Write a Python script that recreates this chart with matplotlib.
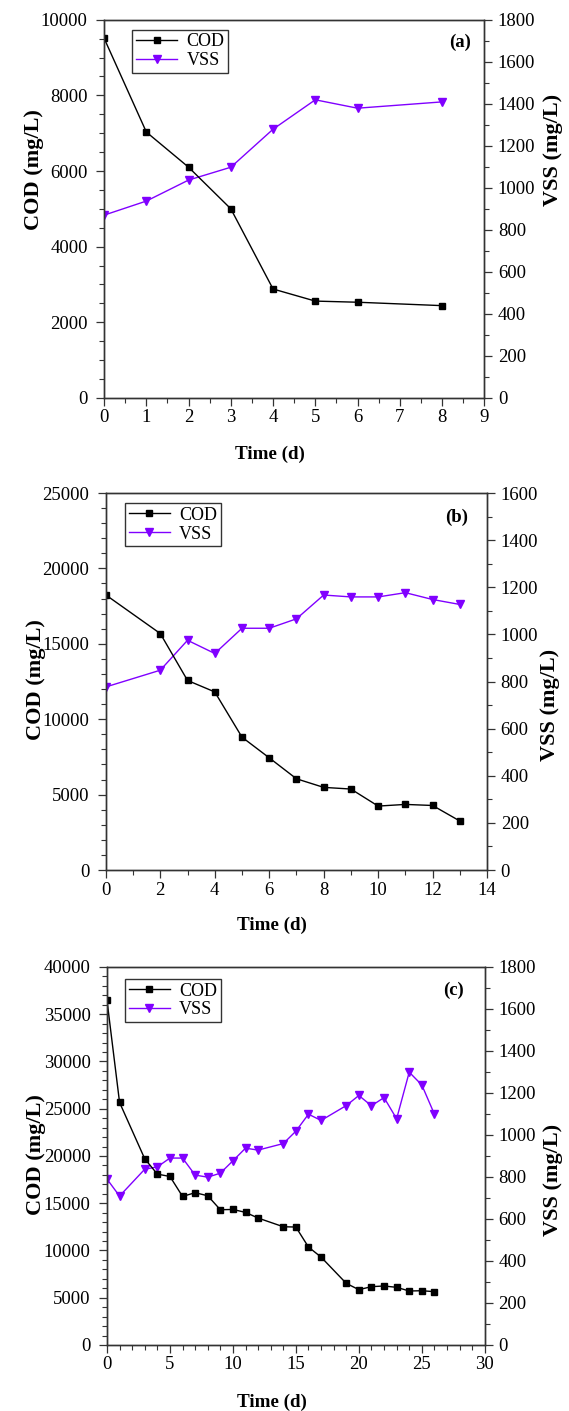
import matplotlib
matplotlib.use("Agg")
import matplotlib.pyplot as plt
from matplotlib.ticker import MultipleLocator

plt.rcParams['font.family'] = ['Liberation Serif', 'DejaVu Serif']

# ---- data ----
days_a = [0, 1, 2, 3, 4, 5, 6, 8]
cod_a = [9510, 7030, 6100, 5000, 2880, 2560, 2530, 2440]
vss_a = [870, 937, 1037, 1098, 1279, 1419, 1379, 1409]

days_b = [0, 2, 3, 4, 5, 6, 7, 8, 9, 10, 11, 12, 13]
cod_b = [18240, 15680, 12570, 11810, 8810, 7440, 6050, 5480, 5370, 4240, 4350, 4280, 3250]
vss_b = [777, 848, 975, 919, 1026, 1026, 1066, 1167, 1159, 1159, 1177, 1148, 1127]

days_c = [0, 1, 3, 4, 5, 6, 7, 8, 9, 10, 11, 12, 14, 15, 16, 17, 19, 20, 21, 22, 23, 24, 25, 26]
cod_c = [36480, 25660, 19700, 18080, 17830, 15720, 16110, 15790, 14310, 14340, 14030, 13430,
         12510, 12480, 10360, 9300, 6520, 5850, 6170, 6240, 6100, 5710, 5740, 5640]
vss_c = [790, 709, 837, 848, 890, 890, 809, 799, 818, 877, 937, 928,
         959, 1018, 1099, 1069, 1140, 1188, 1139, 1178, 1077, 1299, 1238, 1099]

panels = [
    dict(x=days_a, cod=cod_a, vss=vss_a, label='(a)', xlim=(0, 9), xmaj=1, xmin=0.5,
         clim=(0, 10000), cmaj=2000, cmin=500, vlim=(0, 1800), vmaj=200, vmin=100,
         rect=[0.183, 0.718, 0.668, 0.268],
         lab_pos=(0.937, 0.939), leg_pos=(0.074, 0.974),
         cod_lab=(-0.184, 0.603), vss_lab=(1.182, 0.656), time_lab=(0.437, -0.148)),
    dict(x=days_b, cod=cod_b, vss=vss_b, label='(b)', xlim=(0, 14), xmaj=2, xmin=1,
         clim=(0, 25000), cmaj=5000, cmin=1000, vlim=(0, 1600), vmaj=200, vmin=100,
         rect=[0.186, 0.3834, 0.670, 0.2672],
         lab_pos=(0.919, 0.936), leg_pos=(0.05, 0.973),
         cod_lab=(-0.184, 0.504), vss_lab=(1.165, 0.438), time_lab=(0.437, -0.148)),
    dict(x=days_c, cod=cod_c, vss=vss_c, label='(c)', xlim=(0, 30), xmaj=5, xmin=1,
         clim=(0, 40000), cmaj=5000, cmin=1000, vlim=(0, 1800), vmaj=200, vmin=100,
         rect=[0.188, 0.0468, 0.664, 0.2679],
         lab_pos=(0.918, 0.939), leg_pos=(0.048, 0.968),
         cod_lab=(-0.188, 0.503), vss_lab=(1.18, 0.437), time_lab=(0.437, -0.151)),
]

COD_COLOR = 'black'
VSS_COLOR = '#8000ff'
SPINE = '#333333'

fig = plt.figure(figsize=(5.69, 14.11), dpi=100)

for p in panels:
    ax = fig.add_axes(p['rect'])
    ax2 = ax.twinx()
    l1, = ax.plot(p['x'], p['cod'], color=COD_COLOR, marker='s', markersize=4.6,
                  linewidth=1.0, label='COD')
    l2, = ax2.plot(p['x'], p['vss'], color=VSS_COLOR, marker='v', markersize=5.5,
                   linewidth=1.0, label='VSS')
    ax.set_xlim(*p['xlim'])
    ax.set_ylim(*p['clim'])
    ax2.set_ylim(*p['vlim'])
    ax.xaxis.set_major_locator(MultipleLocator(p['xmaj']))
    ax.xaxis.set_minor_locator(MultipleLocator(p['xmin']))
    ax.yaxis.set_major_locator(MultipleLocator(p['cmaj']))
    ax.yaxis.set_minor_locator(MultipleLocator(p['cmin']))
    ax2.yaxis.set_major_locator(MultipleLocator(p['vmaj']))
    ax2.yaxis.set_minor_locator(MultipleLocator(p['vmin']))
    for a in (ax, ax2):
        a.tick_params(which='major', direction='out', length=5.8, width=0.9,
                      color=SPINE, labelsize=13.5)
        a.tick_params(which='minor', direction='out', length=3.6, width=0.8, color=SPINE)
        for s in a.spines.values():
            s.set_color(SPINE)
            s.set_linewidth(1.0)
    ax.tick_params(axis='y', which='major', pad=6)
    ax.tick_params(axis='x', which='major', pad=2.5)
    ax2.tick_params(axis='y', which='major', pad=4)

    ax.set_xlabel('Time (d)', fontsize=13.7, fontweight='bold')
    ax.set_ylabel('COD (mg/L)', fontsize=16, fontweight='bold')
    ax2.set_ylabel('VSS (mg/L)', fontsize=16, fontweight='bold')
    ax.xaxis.set_label_coords(*p['time_lab'])
    ax.yaxis.set_label_coords(*p['cod_lab'])
    ax2.yaxis.set_label_coords(*p['vss_lab'])
    for lab in (ax.xaxis.label, ax.yaxis.label, ax2.yaxis.label):
        lab.set_verticalalignment('center')
        lab.set_horizontalalignment('center')

    ax.set_zorder(ax2.get_zorder() + 1)
    ax.patch.set_visible(False)
    ax.text(p['lab_pos'][0], p['lab_pos'][1], p['label'], transform=ax.transAxes,
            ha='center', va='center', fontsize=13.5, fontweight='bold')
    leg = ax.legend(handles=[l1, l2], loc='upper left', bbox_to_anchor=p['leg_pos'],
                    fontsize=13, frameon=True, fancybox=False, handlelength=2.3,
                    borderpad=0.2, labelspacing=0.1, handletextpad=0.5,
                    borderaxespad=0.0, framealpha=1.0)
    leg.get_frame().set_edgecolor(SPINE)
    leg.get_frame().set_linewidth(1.0)

fig.savefig('out.png', dpi=100)
